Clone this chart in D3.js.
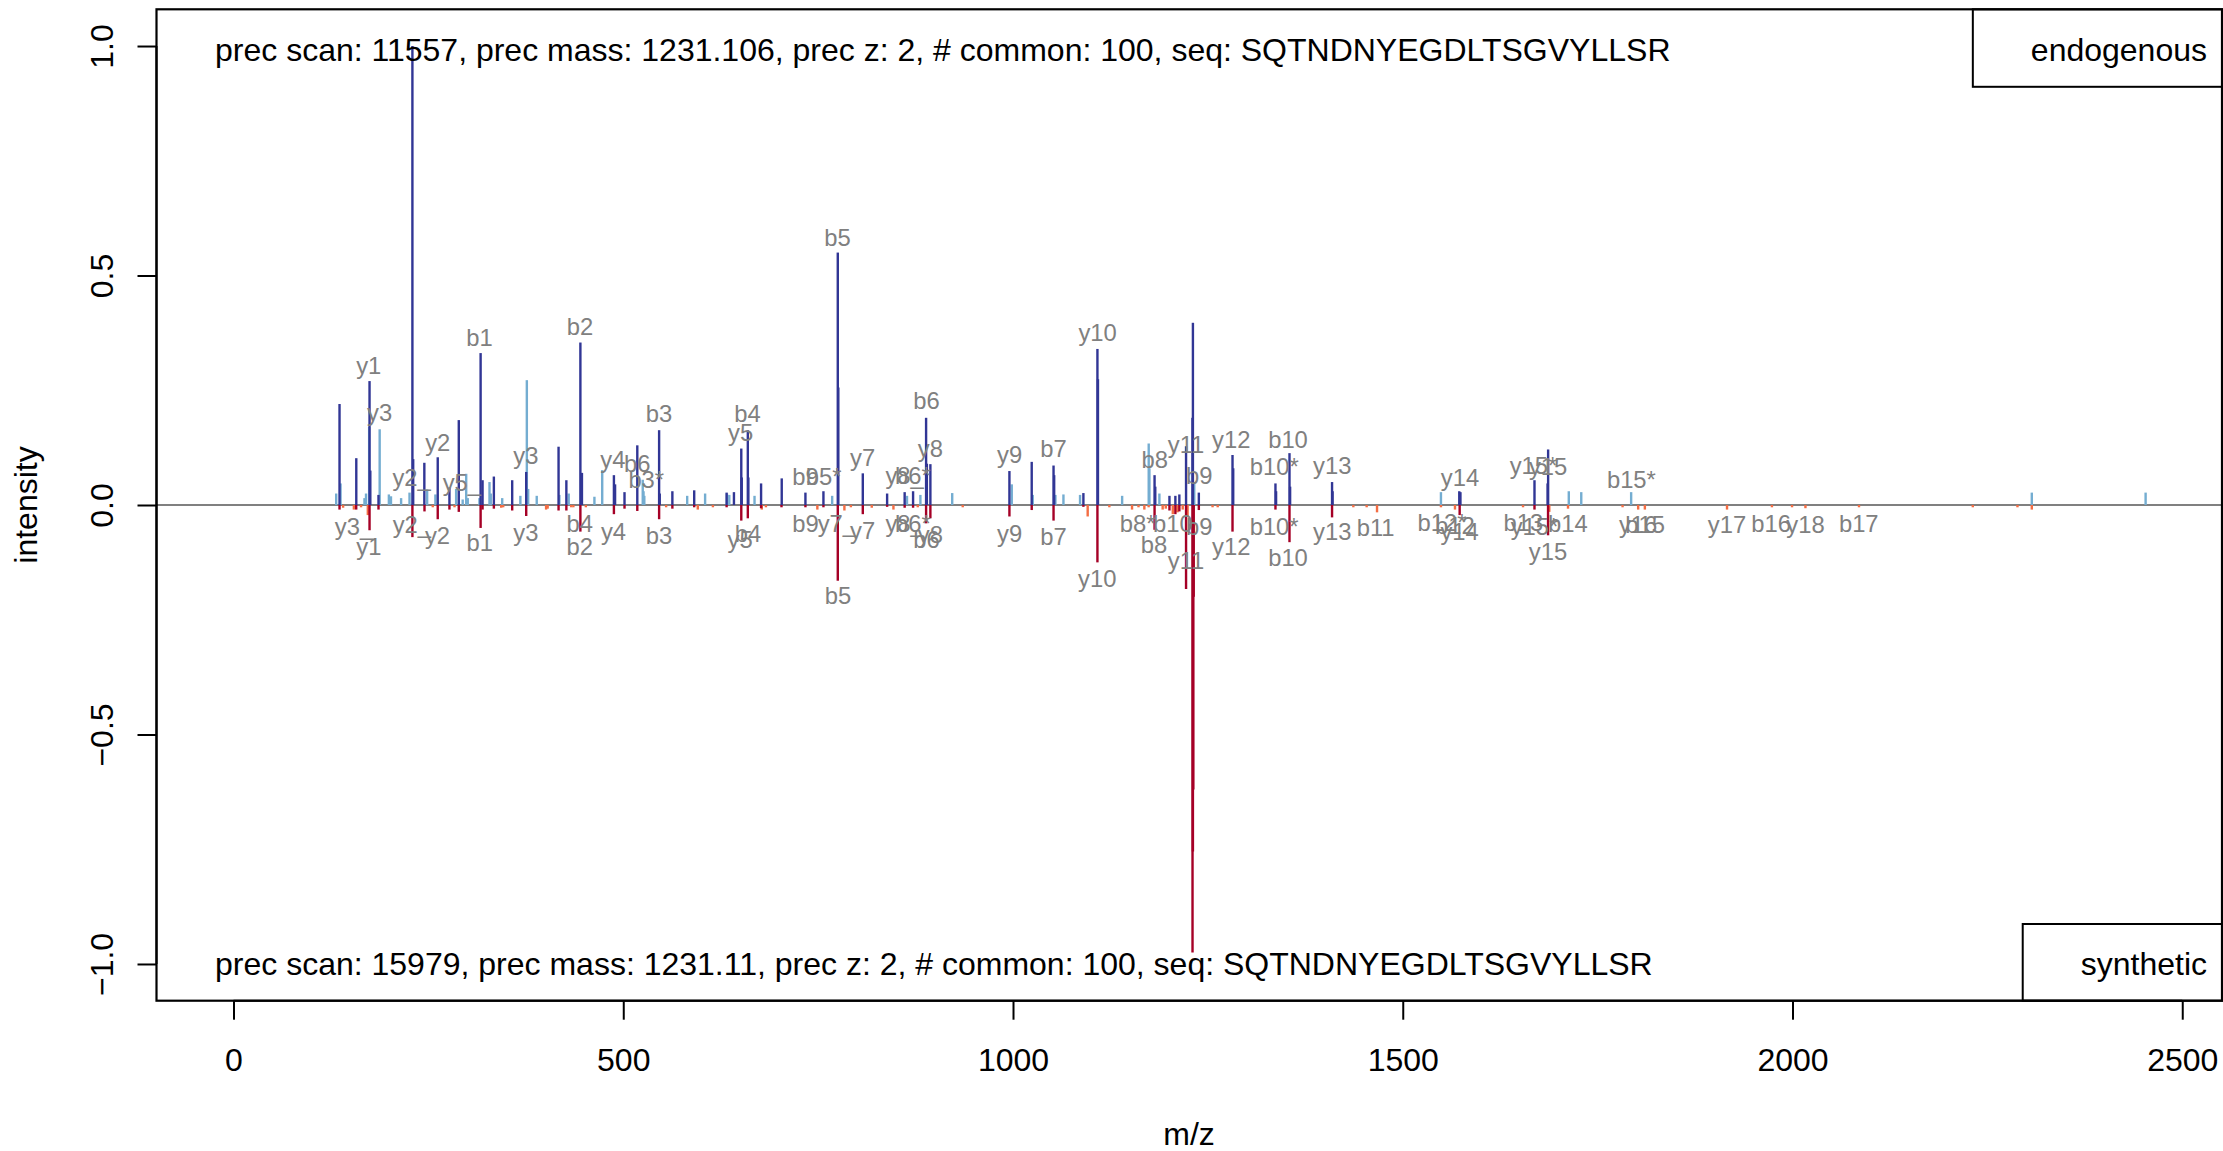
<!DOCTYPE html>
<html><head><meta charset="utf-8">
<script src="https://cdn.jsdelivr.net/npm/d3@7"></script>
<style>
body{margin:0;background:#fff}
svg{display:block}
text{font-family:"Liberation Sans",Arial,Helvetica,sans-serif}
</style>
</head><body>
<svg id="chart" width="2223" height="1151"></svg>
<script>
// ---------- data ----------
const xTicks = [0, 500, 1000, 1500, 2000, 2500];
const xTickLabels = ["0", "500", "1000", "1500", "2000", "2500"];
const yTicks = [-1, -0.5, 0, 0.5, 1];
const yTickLabels = ["\u22121.0", "\u22120.5", "0.0", "0.5", "1.0"];

const topInfo = "prec scan: 11557, prec mass: 1231.106, prec z: 2, # common: 100, seq: SQTNDNYEGDLTSGVYLLSR";
const bottomInfo = "prec scan: 15979, prec mass: 1231.11, prec z: 2, # common: 100, seq: SQTNDNYEGDLTSGVYLLSR";
const topLegend = "endogenous";
const bottomLegend = "synthetic";

// endogenous spectrum, peaks in common with synthetic
const endoCommonMz = [136,157.5,174.5,175.5,186,229.5,230.5,244.8,262,277,289,317,319.5,334,357.5,375.5,417,427,445,447,488,489.5,501.6,518,546,546.8,563,591,632.6,642,651.4,652,659.8,660.5,676.8,703.3,733.7,756.8,775.2,775.9,807.3,838.5,861,871.8,888.5,889.5,894,995.4,1024,1052,1052.8,1090.3,1108.3,1109,1181.6,1182.5,1200.7,1208.3,1213.4,1222,1230.2,1230.8,1238.4,1281.6,1282.5,1336.7,1337.5,1354.7,1355.5,1409.3,1410,1572.5,1574,1669,1685.8,1686.5];
const endoCommonInt = [0.22,0.102,0.27,0.075,0.022,1.0,0.10,0.092,0.104,0.038,0.185,0.331,0.054,0.062,0.054,0.072,0.127,0.054,0.354,0.07,0.065,0.045,0.028,0.13,0.163,0.025,0.03,0.032,0.027,0.028,0.123,0.06,0.163,0.06,0.047,0.058,0.027,0.03,0.55,0.256,0.069,0.025,0.028,0.03,0.19,0.09,0.089,0.074,0.094,0.086,0.065,0.026,0.34,0.274,0.065,0.04,0.02,0.02,0.023,0.128,0.19,0.397,0.027,0.109,0.08,0.047,0.03,0.113,0.04,0.05,0.03,0.03,0.028,0.054,0.047,0.121];

// endogenous spectrum, other peaks
const endoOtherMz = [131.7,137.3,168,170,174,187.5,199.3,202,215,225.8,248.4,259,285.6,294,298.5,300.5,315.5,328.4,330,344.7,368,376.3,378,389,418,430,463,473,525,526,527,582,605,633,636,668.4,768,864,881.2,922,998.4,1025.3,1054.4,1064.7,1086,1140,1174.1,1175,1187.8,1232.5,1549,1713,1729,1793,2307,2453];
const endoOtherInt = [0.025,0.047,0.015,0.025,0.17,0.165,0.023,0.019,0.015,0.027,0.034,0.023,0.035,0.012,0.068,0.015,0.015,0.05,0.025,0.015,0.02,0.272,0.035,0.02,0.022,0.025,0.018,0.076,0.055,0.03,0.02,0.02,0.025,0.025,0.022,0.02,0.02,0.02,0.022,0.026,0.045,0.022,0.022,0.023,0.022,0.02,0.134,0.08,0.025,0.05,0.028,0.03,0.028,0.028,0.027,0.027];

// synthetic spectrum (drawn downwards), peaks in common
const synCommonMz = [136,157.4,174.5,186,229.5,245,262,277,289,317,319.5,334,357.5,375.5,417,427,445,488,501.6,518,546,563,591,632.6,651.4,659.8,676.8,703,733.7,756.8,775.2,807.3,838.5,861,871.8,888.5,894,995.4,1024,1052,1090.3,1108.3,1181.6,1200.7,1208.3,1213.4,1222,1230.3,1230.8,1231.3,1231.8,1238.4,1281.6,1336.7,1354.7,1409.3,1573,1669,1686.4];
const synCommonInt = [0.01,0.01,0.055,0.01,0.07,0.014,0.031,0.01,0.015,0.05,0.01,0.008,0.012,0.024,0.012,0.012,0.058,0.02,0.008,0.013,0.031,0.008,0.005,0.005,0.034,0.029,0.007,0.005,0.005,0.005,0.165,0.02,0.004,0.006,0.006,0.04,0.029,0.025,0.011,0.034,0.004,0.125,0.054,0.012,0.02,0.014,0.183,0.975,0.755,0.62,0.2,0.011,0.058,0.01,0.081,0.027,0.022,0.01,0.066];

// synthetic spectrum, other peaks
const synOtherMz = [140.6,154.4,163.6,172.3,255.6,283.5,343.4,346,401,403,433.2,436,452,555,595.6,615,677.7,683,749,783.7,792,818.8,846.6,877.8,935.5,1095.8,1123.6,1152.7,1161,1168.5,1174,1192,1196,1205,1211,1217.7,1224,1256,1262.6,1436.6,1453.7,1467,1549,1567,1654.3,1688,1712,1782,1802,1810.6,1916,1973.6,1999.4,2016.6,2085.3,2231.3,2288.6,2307];
const synOtherInt = [0.006,0.01,0.005,0.022,0.005,0.005,0.006,0.005,0.01,0.008,0.005,0.005,0.005,0.005,0.01,0.005,0.01,0.005,0.01,0.012,0.005,0.006,0.01,0.005,0.005,0.025,0.005,0.01,0.005,0.01,0.005,0.01,0.008,0.02,0.016,0.01,0.024,0.005,0.005,0.005,0.005,0.016,0.005,0.01,0.005,0.015,0.008,0.005,0.01,0.01,0.01,0.005,0.005,0.007,0.005,0.005,0.005,0.01];

// fragment annotations
const endoLabelText = ["y1","y3","y2","y2_","y5_","y3","b1","b2","y4","b6","b3*","b3","y5","b4","b5","b9","b5*","y7","y8_","b6*","b6","y8","y9","b7","y10","b8","y11","b9","y12","b10*","b10","y13","y14","y15*","y15","b15*"];
const endoLabelMz = [173.5,187.5,262,228.5,293,375,315.5,444.6,486.7,518,529.5,546,650.5,659.5,774.7,733.7,757,807.1,861,871.6,889,894,995.6,1052,1108.5,1181.7,1222,1239,1280,1335.2,1352.8,1409.6,1573.4,1667.8,1686.5,1793.3];
const endoLabelInt = [0.268,0.167,0.102,0.026,0.014,0.074,0.33,0.353,0.065,0.056,0.02,0.164,0.123,0.164,0.548,0.027,0.027,0.069,0.03,0.03,0.192,0.089,0.076,0.089,0.342,0.065,0.096,0.03,0.108,0.049,0.107,0.051,0.025,0.052,0.05,0.02];

const synLabelText = ["y3_","y1","y2_","y2","b1","y3","b4","b2","y4","b3","y5","b4","b9","y7_","b5","y7","y8_","b6*","y8","b6","y9","b7","y10","b8*","b8","b10","y11","b9","y12","b10*","b10","y13","b11","b12*","b12","y14","b13","y15*","y15","b14","y16","b15","y17","b16","y18","b17"];
const synLabelMz = [154.5,173.6,228.8,261.7,316,375,444.3,444.3,487.5,546,650,660,733.7,774,775.4,807,861,871.6,894,889,995.6,1052,1108.1,1160,1181,1205,1222,1239,1280,1335,1352.8,1409.6,1465.2,1550.4,1567,1573,1654.8,1669,1686.4,1711.8,1801.9,1810.9,1916,1972.6,2016.6,2085];
const synLabelInt = [0.011,0.056,0.007,0.031,0.047,0.024,0.005,0.056,0.022,0.031,0.041,0.027,0.005,0.005,0.163,0.021,0.005,0.005,0.029,0.04,0.027,0.034,0.125,0.005,0.052,0.005,0.085,0.012,0.056,0.012,0.079,0.023,0.014,0.004,0.01,0.022,0.004,0.012,0.067,0.005,0.008,0.008,0.008,0.005,0.007,0.005];

// ---------- drawing ----------
const FONT = 32, LFONT = 23.8;
const col = {endoCommon:"#313695", endoOther:"#74add1", synCommon:"#a50026", synOther:"#f46d43", label:"#808080", zero:"#808080"};
const plot = {left:156.5, right:2222, top:9.3, bottom:1000.7};
const x = d3.scaleLinear().domain([-98.8, 2551]).range([plot.left, plot.right]);
const y = d3.scaleLinear().domain([-1.08, 1.08]).range([plot.bottom, plot.top]);

const svg = d3.select("#chart");
svg.append("rect").attr("width",2223).attr("height",1151).attr("fill","#fff");

const zip = (a,b) => a.map((v,i)=>({mz:v, int:b[i]}));

// zero line
svg.append("line").attr("x1",plot.left).attr("x2",plot.right)
  .attr("y1",y(0)).attr("y2",y(0)).attr("stroke",col.zero).attr("stroke-width",2);

function peaks(data, sign, color){
  svg.append("g").selectAll("line").data(data).join("line")
    .attr("x1",d=>x(d.mz)).attr("x2",d=>x(d.mz))
    .attr("y1",y(0)).attr("y2",d=>y(sign*d.int))
    .attr("stroke",color).attr("stroke-width",2.4);
}
peaks(zip(synOtherMz,synOtherInt), -1, col.synOther);
peaks(zip(synCommonMz,synCommonInt), -1, col.synCommon);
peaks(zip(endoOtherMz,endoOtherInt), 1, col.endoOther);
peaks(zip(endoCommonMz,endoCommonInt), 1, col.endoCommon);

function labels(text, mz, ints, sign){
  const data = text.map((t,i)=>({t, mz:mz[i], int:ints[i]}));
  svg.append("g").selectAll("text").data(data).join("text")
    .attr("x",d=>x(d.mz))
    .attr("y",d=>y(sign*d.int) - sign*16)
    .attr("text-anchor","middle").attr("dominant-baseline","central")
    .attr("font-size",LFONT).attr("fill",col.label)
    .text(d=>d.t);
}
labels(endoLabelText, endoLabelMz, endoLabelInt, 1);
labels(synLabelText, synLabelMz, synLabelInt, -1);

// info texts
svg.append("text").attr("x",215).attr("y",49.6).attr("dominant-baseline","central")
  .attr("font-size",FONT).attr("fill","#000").text(topInfo);
svg.append("text").attr("x",215).attr("y",963.5).attr("dominant-baseline","central")
  .attr("font-size",FONT).attr("fill","#000").text(bottomInfo);

// legends
function legend(label, yTop, yBot, yText){
  const g = svg.append("g");
  const t = g.append("text").attr("x",plot.right-15).attr("y",yText)
    .attr("text-anchor","end").attr("dominant-baseline","central")
    .attr("font-size",FONT).attr("fill","#000").text(label);
  const w = t.node().getComputedTextLength();
  g.insert("rect","text").attr("x",plot.right-15-w-58).attr("y",yTop)
    .attr("width",w+58+15).attr("height",yBot-yTop)
    .attr("fill","#fff").attr("stroke","#000").attr("stroke-width",2);
}
legend(topLegend, plot.top, 86.8, 49.6);
legend(bottomLegend, 924, plot.bottom, 963.5);

// axes
const xAxis = svg.append("g").attr("transform",`translate(0,${plot.bottom})`)
  .call(d3.axisBottom(x).tickValues(xTicks).tickFormat((d,i)=>xTickLabels[i]).tickSize(19).tickSizeOuter(0));
xAxis.select(".domain").attr("d",`M${x(xTicks[0])},0H${x(xTicks[xTicks.length-1])}`).attr("stroke-width",2);
xAxis.selectAll(".tick line").attr("stroke-width",2);
xAxis.selectAll(".tick text").attr("y",59.5).attr("dy",null).attr("dominant-baseline","central")
  .attr("font-size",FONT).attr("fill","#000").attr("font-family",null);

const yAxis = svg.append("g").attr("transform",`translate(${plot.left},0)`)
  .call(d3.axisLeft(y).tickValues(yTicks).tickFormat((d,i)=>yTickLabels[i]).tickSize(19).tickSizeOuter(0));
yAxis.select(".domain").attr("d",`M0,${y(yTicks[0])}V${y(yTicks[yTicks.length-1])}`).attr("stroke-width",2);
yAxis.selectAll(".tick line").attr("stroke-width",2);
yAxis.selectAll(".tick text").attr("x",0).attr("y",-55).attr("dy",null)
  .attr("transform","rotate(-90)").attr("text-anchor","middle").attr("dominant-baseline","central")
  .attr("font-size",FONT).attr("fill","#000").attr("font-family",null);

// plot box
svg.append("rect").attr("x",plot.left).attr("y",plot.top)
  .attr("width",plot.right-plot.left).attr("height",plot.bottom-plot.top)
  .attr("fill","none").attr("stroke","#000").attr("stroke-width",2.2);

// axis titles
svg.append("text").attr("x",1189).attr("y",1134).attr("text-anchor","middle")
  .attr("dominant-baseline","central").attr("font-size",FONT).text("m/z");
svg.append("text").attr("transform","translate(25.5,505) rotate(-90)").attr("text-anchor","middle")
  .attr("dominant-baseline","central").attr("font-size",FONT).text("intensity");
</script>
</body></html>
